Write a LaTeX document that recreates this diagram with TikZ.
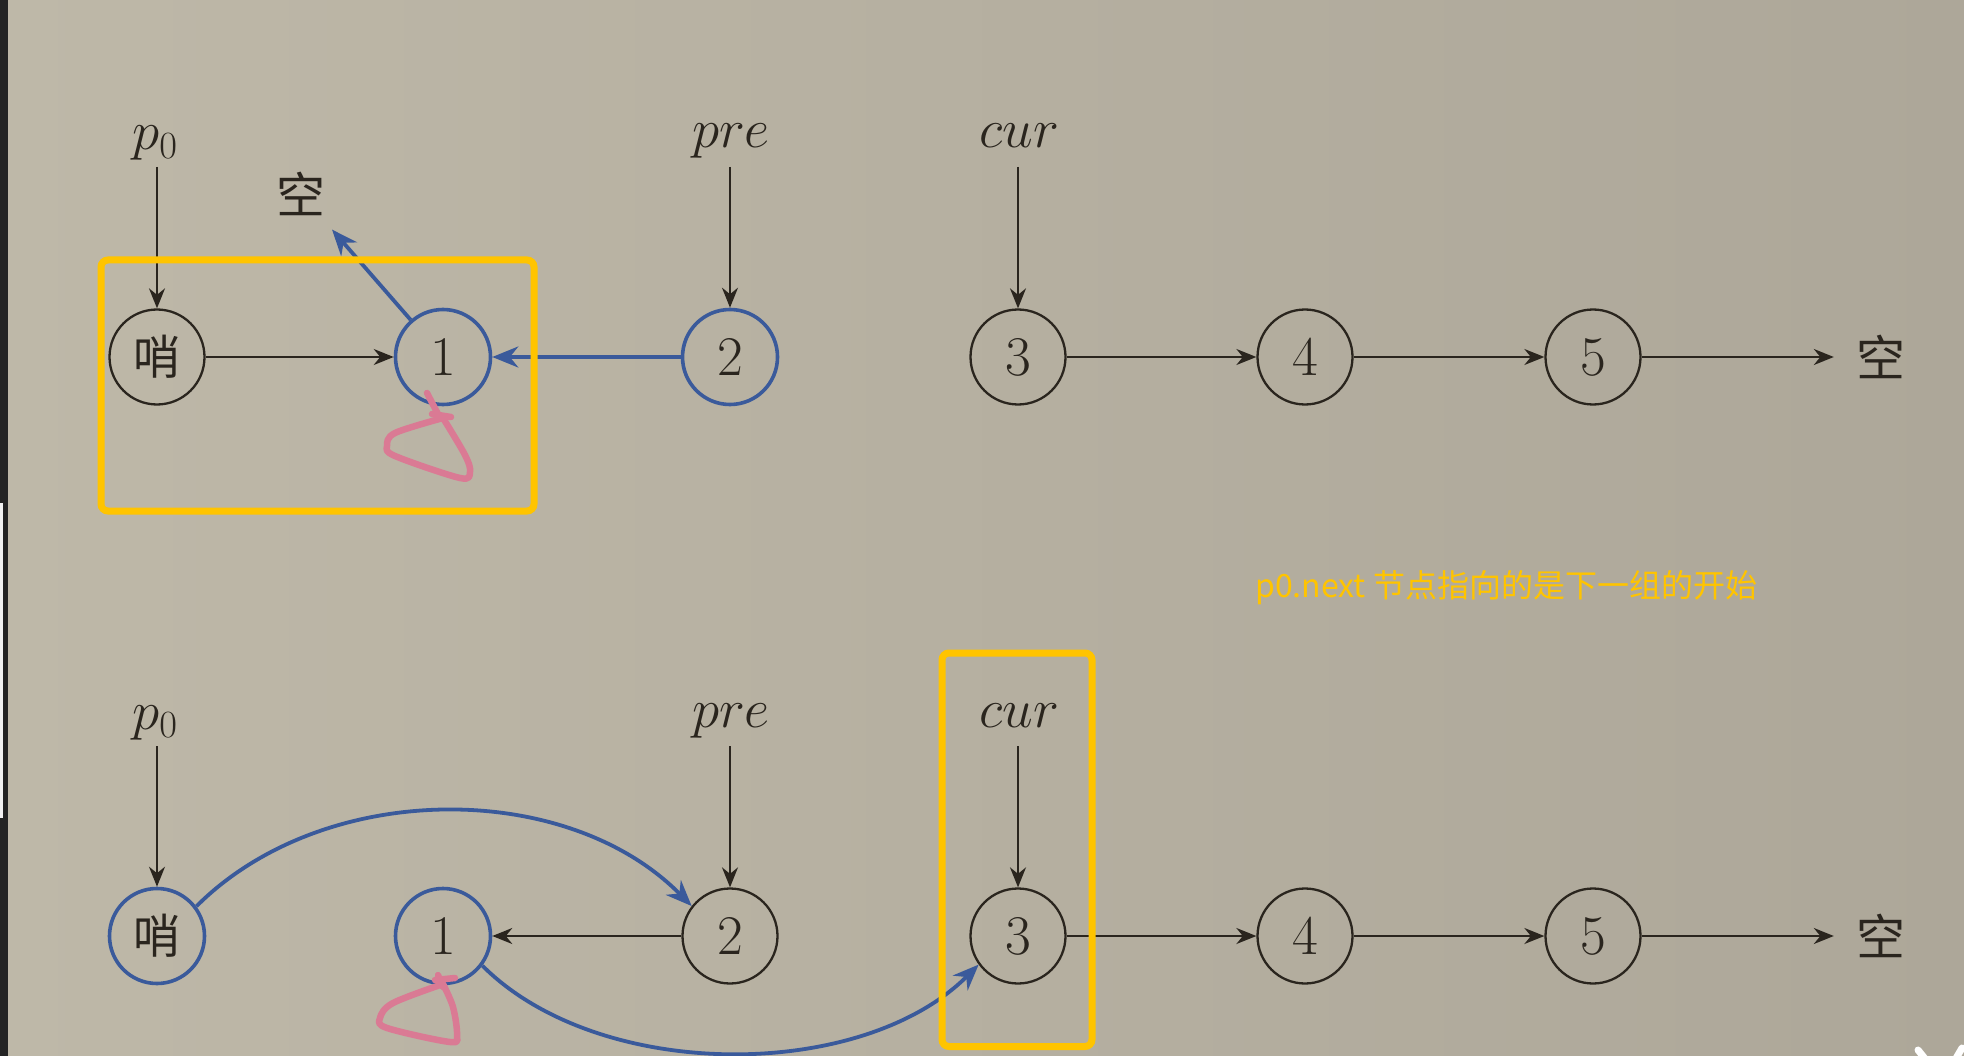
\RequirePackage{fix-cm}
\documentclass[tikz,border=0pt]{standalone}
\usepackage{fontspec}
\newfontfamily\cjk{Noto Sans CJK SC}
\usetikzlibrary{arrows.meta}
\definecolor{ink}{RGB}{42,37,30}
\definecolor{lblue}{RGB}{58,90,155}
\definecolor{hl}{RGB}{255,196,0}
\definecolor{pinkmark}{RGB}{218,122,148}
\definecolor{bgl}{RGB}{190,184,168}
\definecolor{bgm}{RGB}{201,194,178}
\definecolor{bgr}{RGB}{173,167,153}
\definecolor{stripc}{RGB}{36,36,36}
\tikzset{
  nd/.style={circle, draw=ink, line width=2.3pt, minimum size=95pt, inner sep=0pt, text=ink, font=\fontsize{56}{60}\selectfont},
  bnd/.style={nd, draw=lblue, line width=3.6pt},
  cnd/.style={nd, font=\cjk\fontsize{47}{52}\selectfont},
  kong/.style={circle, inner sep=0pt, minimum size=94pt, text=ink, font=\cjk\fontsize{49}{54}\selectfont},
  lbl/.style={anchor=base, inner sep=0pt, text=ink, font=\fontsize{55}{60}\selectfont},
  arr/.style={draw=ink, line width=2.1pt, -{Stealth[length=20pt,width=16pt]}},
  barr/.style={draw=lblue, line width=3.8pt, -{Stealth[length=26pt,width=21pt]}},
  hbox/.style={draw=hl, line width=7pt, rounded corners=7pt},
  pen/.style={draw=pinkmark, line width=6.5pt, line cap=round, line join=round},
  note/.style={anchor=west, inner sep=0pt, text=hl, font=\cjk\fontsize{32}{36}\selectfont}
}
\begin{document}
\begin{tikzpicture}[x=1pt,y=-1pt]
\useasboundingbox (0,0) rectangle (1964,1056);
\shade[left color=bgl, middle color=bgm, right color=bgr] (0,0) rectangle (1964,1056);
\fill[stripc] (0,0) rectangle (8,1056);
\fill[white!90!gray] (0,503) rectangle (3,818);

% ---------- top row ----------
\node[cnd] (a0) at (157,357) {哨};
\node[bnd] (a1) at (443,357) {1};
\node[bnd] (a2) at (730,357) {2};
\node[nd]  (a3) at (1018,357) {3};
\node[nd]  (a4) at (1305,357) {4};
\node[nd]  (a5) at (1593,357) {5};
\node[kong] (ak) at (1881,357) {空};
\node[kong] (ak0) at (301,194) {空};

\node[lbl] (ap)   at (155,150) {$p_0$};
\node[lbl] (apre) at (731,148) {$pre$};
\node[lbl] (acur) at (1019,148) {$cur$};
\coordinate (apS) at (157,167);
\coordinate (apreS) at (730,167);
\coordinate (acurS) at (1018,167);

\draw[arr] (apS) -- (a0);
\draw[arr] (apreS) -- (a2);
\draw[arr] (acurS) -- (a3);
\draw[arr] (a0) -- (a1);
\draw[barr] (a2) -- (a1);
\draw[barr] (a1) -- (ak0);
\draw[arr] (a3) -- (a4);
\draw[arr] (a4) -- (a5);
\draw[arr] (a5) -- (ak);

\draw[hbox] (101,260) rectangle (534,511);

% pink scribble (top)
\draw[pen] (427,393) -- (440,418);
\draw[pen] (432,414) -- (451,417);
\draw[pen] plot[smooth, tension=0.55] coordinates {(443,418) (395,433) (387,446) (395,456) (460,478) (470,472) (465,455) (443,418)};

% ---------- note ----------
\node[note] (txt) at (1255,588) {p0.next 节点指向的是下一组的开始};

% ---------- bottom row ----------
\node[cnd, draw=lblue, line width=3.6pt] (b0) at (157,936) {哨};
\node[bnd] (b1) at (443,936) {1};
\node[nd]  (b2) at (730,936) {2};
\node[nd]  (b3) at (1018,936) {3};
\node[nd]  (b4) at (1305,936) {4};
\node[nd]  (b5) at (1593,936) {5};
\node[kong] (bk) at (1881,936) {空};

\node[lbl] (bp)   at (155,729) {$p_0$};
\node[lbl] (bpre) at (731,727) {$pre$};
\node[lbl] (bcur) at (1019,727) {$cur$};
\coordinate (bpS) at (157,746);
\coordinate (bpreS) at (730,746);
\coordinate (bcurS) at (1018,746);

\draw[arr] (bpS) -- (b0);
\draw[arr] (bpreS) -- (b2);
\draw[arr] (bcurS) -- (b3);
\draw[arr] (b2) -- (b1);
\draw[arr] (b3) -- (b4);
\draw[arr] (b4) -- (b5);
\draw[arr] (b5) -- (bk);

\draw[barr] (b0.37) .. controls +(127,-127) and +(-125,-127) .. (b2.142);
\draw[barr] (b1.-37) .. controls +(117,117) and +(-117,117) .. (b3.-144);

\draw[hbox] (942,653) rectangle (1092,1046.5);

% pink scribble (bottom)
\draw[pen] (438,975) -- (443,987);
\draw[pen] (435,980) -- (455,978);
\draw[pen] plot[smooth, tension=0.55] coordinates {(443,984) (393,1003) (380,1018) (387,1028) (450,1042) (457,1035) (453,1007) (443,984)};

% corner marks
\draw[white, line width=7pt, line cap=round] (1918,1050) -- (1926,1060);
\draw[white, line width=7pt, line cap=round] (1962,1048) -- (1955,1060);
\end{tikzpicture}
\end{document}
